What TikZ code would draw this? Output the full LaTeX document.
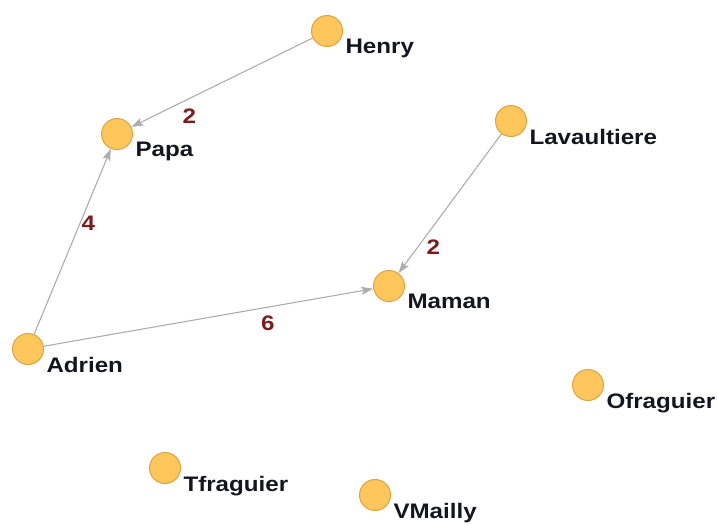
\documentclass[tikz,border=0pt]{standalone}
\usepackage{fontspec}
\usepackage{xcolor}
\usepackage{tikz}
\usetikzlibrary{positioning, arrows.meta}
\newfontfamily\graphfont[FakeStretch=1.15]{Liberation Sans}
\definecolor{nodefill}{HTML}{FFC65C}
\definecolor{nodeborder}{HTML}{E2A23E}
\definecolor{edgegray}{HTML}{ADADAD}
\definecolor{weightred}{HTML}{7E1A1C}
\definecolor{nametext}{HTML}{15151F}

\begin{document}
\begin{tikzpicture}[x=1pt, y=-1pt,
    font=\graphfont\bfseries\fontsize{21}{24}\selectfont,
    vertex/.style={circle, fill=nodefill, draw=nodeborder, line width=1pt, minimum size=31pt, inner sep=0pt},
    vlabel/.style={text=nametext, inner sep=0pt, anchor=north west},
    wlabel/.style={text=weightred, inner sep=0pt},
    link/.style={draw=edgegray, line width=1.1pt, -{Stealth[length=12pt, width=8pt, inset=2.5pt]}}]
  \useasboundingbox (0,0) rectangle (718,525);

  % people
  \node[vertex] (henry) at (327,31) {};
  \node[vertex] (papa) at (117,134) {};
  \node[vertex] (lava) at (511,121) {};
  \node[vertex] (maman) at (389,286) {};
  \node[vertex] (adrien) at (28,349) {};
  \node[vertex] (ofrag) at (588,385) {};
  \node[vertex] (tfrag) at (165,468) {};
  \node[vertex] (vmailly) at (375,495) {};

  % names
  \node[vlabel, below right=-3pt and 7pt of henry] (henryname) {Henry};
  \node[vlabel, below right=-3pt and 7pt of papa] (papaname) {Papa};
  \node[vlabel, below right=-3pt and 7pt of lava] (lavaname) {Lavaultiere};
  \node[vlabel, below right=-3pt and 7pt of maman] (mamanname) {Maman};
  \node[vlabel, below right=-3pt and 7pt of adrien] (adrienname) {Adrien};
  \node[vlabel, below right=-3pt and 7pt of ofrag] (ofragname) {Ofraguier};
  \node[vlabel, below right=-3pt and 7pt of tfrag] (tfragname) {Tfraguier};
  \node[vlabel, below right=-3pt and 7pt of vmailly] (vmaillyname) {VMailly};

  % weighted links
  \draw[link] (henry) -- node[wlabel, pos=.68, below=10pt] (w1) {2} (papa);
  \draw[link] (adrien) -- node[wlabel, pos=.6, right=1pt] (w2) {4} (papa);
  \draw[link] (lava) -- node[wlabel, pos=.81, right=8pt] (w3) {2} (maman);
  \draw[link] (adrien) -- node[wlabel, pos=.68, below=8pt] (w4) {6} (maman);
\end{tikzpicture}
\end{document}
